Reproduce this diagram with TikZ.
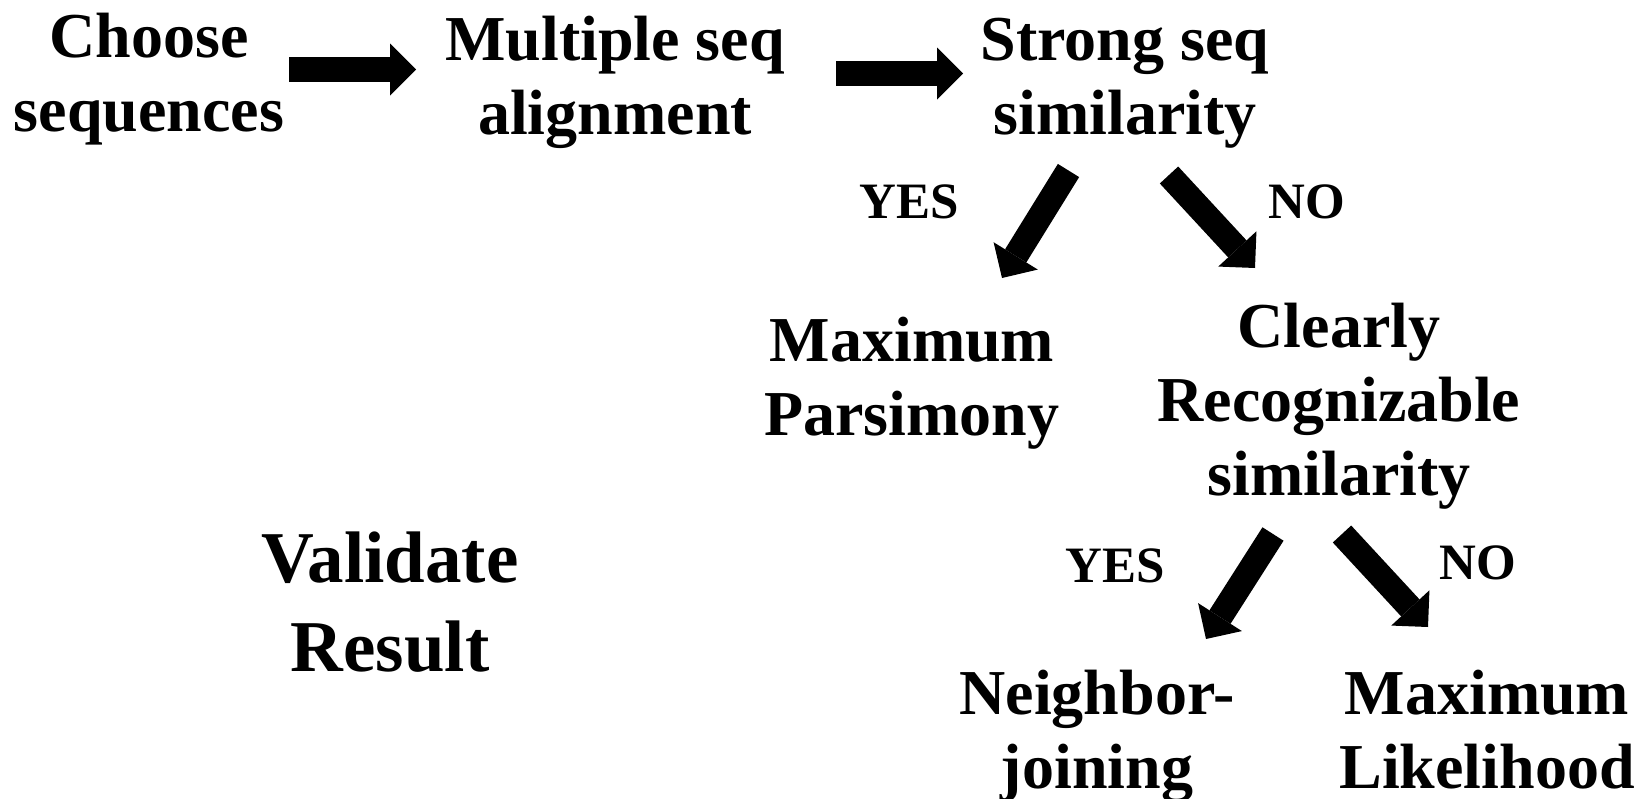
\documentclass[tikz,border=0pt]{standalone}
\usepackage{fontspec}
\setmainfont{Liberation Serif}
\usetikzlibrary{arrows.meta}
\begin{document}
\begin{tikzpicture}[x=1pt,y=-1pt,
  lbl/.style={font=\bfseries\fontsize{64}{74}\selectfont, align=center, inner sep=0pt, anchor=base},
  biglbl/.style={lbl, font=\bfseries\fontsize{73}{89}\selectfont},
  answer/.style={lbl, font=\bfseries\fontsize{51}{60}\selectfont},
  flow/.style={line width=25pt, -{Triangle[width=52pt,length=26pt,line width=0pt]}}]
\useasboundingbox (0,0) rectangle (1644,798);

% steps of the procedure (positions give the baseline of the last line)
\node[lbl] (choose)   at (149,131)  {Choose\\sequences};
\node[lbl] (msa)      at (615,134)  {Multiple seq\\alignment};
\node[lbl] (strong)   at (1125,134) {Strong seq\\similarity};
\node[lbl] (mp)       at (912,435)  {Maximum\\Parsimony};
\node[lbl] (clearly)  at (1339,495) {Clearly\\Recognizable\\similarity};
\node[lbl] (nj)       at (1097,788) {Neighbor-\\joining};
\node[lbl] (ml)       at (1487,788) {Maximum\\Likelihood};
\node[biglbl] (valid) at (390,671)  {Validate\\Result};

% branch answers
\node[answer] (yes1) at (909,218)  {YES};
\node[answer] (no1)  at (1307,218) {NO};
\node[answer] (yes2) at (1115,582) {YES};
\node[answer] (no2)  at (1478,579) {NO};

% arrow end points
\coordinate (choose-out) at (289,69.5);
\coordinate (msa-in)     at (416,69.5);
\coordinate (msa-out)    at (836,73.5);
\coordinate (strong-in)  at (963,73.5);
\coordinate (strong-yes) at (1068.5,170.5);
\coordinate (mp-in)      at (1002,278);
\coordinate (strong-no)  at (1169,175);
\coordinate (clearly-in) at (1255,268);
\coordinate (clearly-yes) at (1273,534);
\coordinate (nj-in)      at (1206,639);
\coordinate (clearly-no) at (1342,534);
\coordinate (ml-in)      at (1428,627);

\draw[flow] (choose-out) -- (msa-in);
\draw[flow] (msa-out) -- (strong-in);
\draw[flow] (strong-yes) -- (mp-in);
\draw[flow] (strong-no) -- (clearly-in);
\draw[flow] (clearly-yes) -- (nj-in);
\draw[flow] (clearly-no) -- (ml-in);
\end{tikzpicture}
\end{document}
